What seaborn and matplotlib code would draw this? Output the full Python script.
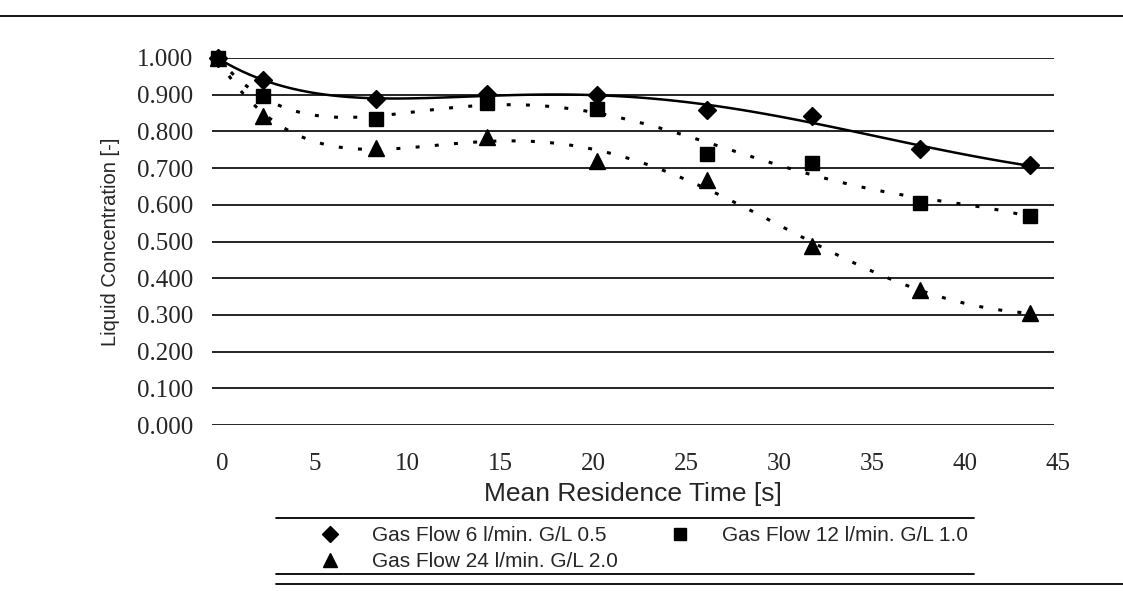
import numpy as np
import pandas as pd
import seaborn as sns
import matplotlib.pyplot as plt
from matplotlib.lines import Line2D
from matplotlib.transforms import ScaledTranslation

# mean residence time [s]
time_s = [0.0, 2.4, 8.5, 14.5, 20.4, 26.3, 32.0, 37.8, 43.7]

# liquid concentration [-] per gas flow
conc_6 = [1.000, 0.940, 0.887, 0.903, 0.900, 0.857, 0.842, 0.752, 0.708]
conc_12 = [1.000, 0.896, 0.835, 0.878, 0.861, 0.738, 0.714, 0.604, 0.570]
conc_24 = [1.000, 0.841, 0.755, 0.786, 0.720, 0.668, 0.489, 0.367, 0.305]

labels = ["Gas Flow 6 l/min. G/L 0.5",
          "Gas Flow 12 l/min. G/L 1.0",
          "Gas Flow 24 l/min. G/L 2.0"]
markers = ["D", "s", "^"]
marker_sizes = [9, 10, 11]

y_ticks = np.arange(0, 1.01, 0.1)
x_ticks = np.arange(0, 46, 5)

df = pd.DataFrame({"time": time_s * 3,
                   "conc": conc_6 + conc_12 + conc_24,
                   "series": [labels[0]] * 9 + [labels[1]] * 9 + [labels[2]] * 9})

sns.set_style("white")
serif = "Liberation Serif"
sans = "Liberation Sans"
plt.rcParams["font.family"] = [sans, "DejaVu Sans"]

fig = plt.figure(figsize=(11.23, 5.91), dpi=100)
ax = fig.add_axes([212.4 / 1123, 1 - 425 / 591, (1054 - 212.4) / 1123, (425 - 58) / 591])

# trendlines (polynomial fits of each series)
for i, lab in enumerate(labels):
    sub = df[df["series"] == lab]
    if i == 0:
        line_kws = dict(color="black", lw=1.8, linestyle="-")
    else:
        line_kws = dict(color="black", lw=2.2, linestyle=(0, (1.3, 5.0)))
    sns.regplot(data=sub, x="time", y="conc", order=5, ci=None, scatter=False,
                line_kws=line_kws, ax=ax)

# markers
handles = []
for i, lab in enumerate(labels):
    sub = df[df["series"] == lab]
    ax.plot(sub["time"], sub["conc"], linestyle="none", marker=markers[i],
            markersize=marker_sizes[i], color="black", clip_on=False, zorder=5)
    handles.append(Line2D([], [], linestyle="none", marker=markers[i],
                          markersize=marker_sizes[i] - 1, color="black", label=lab))

ax.set_xlim(-0.3, 45)
ax.set_ylim(0, 1.0)
ax.set_xticks(x_ticks)
ax.set_yticks(y_ticks)
ax.set_xticklabels([str(v) for v in x_ticks], fontfamily=serif, fontsize=18)
ax.set_yticklabels([f"{v:.3f}" for v in y_ticks], fontfamily=serif, fontsize=18)
ax.tick_params(axis="x", length=0, pad=20)
ax.tick_params(axis="y", length=0, pad=14)
shift = ScaledTranslation(0.04, 0, fig.dpi_scale_trans)
for t in ax.get_xticklabels():
    t.set_transform(t.get_transform() + shift)
ax.grid(axis="y", color="black", lw=1.2)
ax.grid(axis="x", visible=False)
for s in ax.spines.values():
    s.set_visible(False)

ax.set_xlabel("Mean Residence Time [s]", fontsize=19, labelpad=5)
ax.set_ylabel("Liquid Concentration [-]", fontsize=14.5, labelpad=12)

# legend, rows: diamond / square, then triangle
leg = fig.legend(handles=[handles[0], handles[2], handles[1]],
                 labels=[labels[0], labels[2], labels[1]],
                 ncol=2, loc="upper left", bbox_to_anchor=(309 / 1123, 1 - 526 / 591),
                 frameon=False, fontsize=15, handlelength=2, handletextpad=1.0,
                 columnspacing=2.0, labelspacing=0.35, borderpad=0, borderaxespad=0)

# frame lines of the legend and of the chart
for x0, x1, y in [(276, 974, 518), (276, 974, 574), (276, 1123, 584), (0, 1123, 16)]:
    fig.add_artist(Line2D([x0 / 1123, x1 / 1123], [1 - y / 591, 1 - y / 591],
                          transform=fig.transFigure, color="black", lw=1.3))

fig.savefig("out.png", dpi=100)
